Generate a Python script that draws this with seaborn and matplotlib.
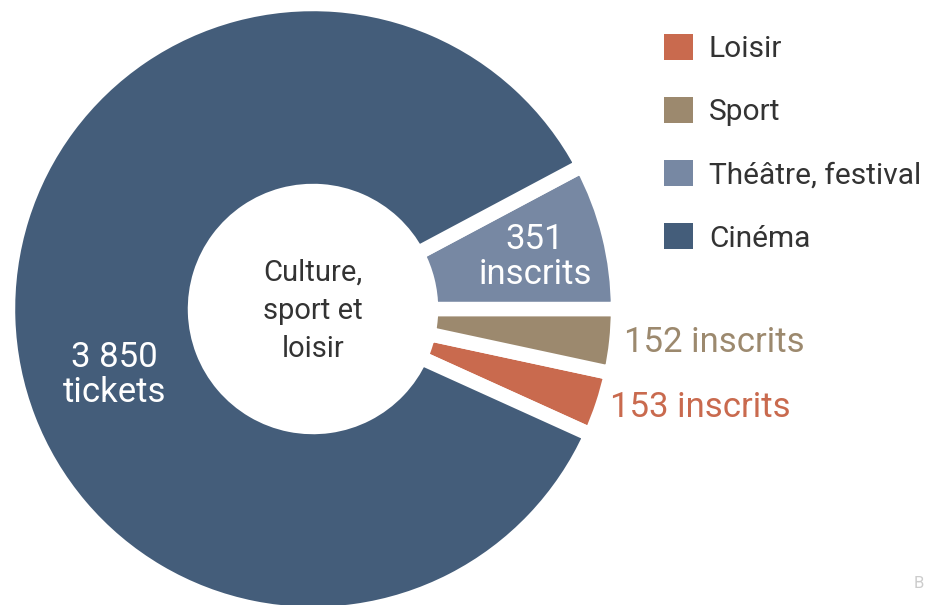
"""
Donut chart: culture, sport et loisir
"""

import numpy as np
import matplotlib
matplotlib.use("Agg")
import matplotlib.pyplot as plt
from matplotlib.patches import Patch
import seaborn as sns

# Data (legend order, drawn counter-clockwise)
categories = ["Loisir", "Sport", "Théâtre, festival", "Cinéma"]
values = [153, 152, 351, 3850]
slice_labels = ["153 inscrits", "152 inscrits", "351\ninscrits", "3 850\ntickets"]
colors = ["#c96a4e", "#9c896e", "#7788a3", "#445d7a"]
center_label = "Culture,\nsport et\nloisir"

sns.set_theme(style="white")
plt.rcParams["font.family"] = ["Roboto", "DejaVu Sans"]

W, H = 925, 605
fig = plt.figure(figsize=(W / 100, H / 100), dpi=100)
ax = fig.add_axes([0, 0, 1, 1])

# centre of the ring in pixel units (y up)
cx, cy = 313, H - 309
total = sum(values)
start = -360 * (values[0] + values[1]) / total

wedges, _ = ax.pie(values, colors=colors, startangle=start, counterclock=True,
                   radius=305, center=(cx, cy),
                   wedgeprops=dict(width=187, edgecolor="white", linewidth=10.4))

ax.set_xlim(0, W)
ax.set_ylim(0, H)
ax.set_aspect("equal")
ax.axis("off")


def polar(angle_deg, r):
    a = np.deg2rad(angle_deg)
    return cx + r * np.cos(a), cy + r * np.sin(a)


# slice labels
for w, lab, col in zip(wedges, slice_labels, colors):
    mid = (w.theta1 + w.theta2) / 2
    if lab.startswith("3 850"):
        x, y = polar(mid + 16.5, 209)
        ax.text(x, y, lab, ha="center", va="center", color="white",
                fontsize=25, linespacing=1.07)
    elif "\n" in lab:
        x, y = polar(mid - 0.8, 228)
        ax.text(x, y, lab, ha="center", va="center", color="white",
                fontsize=25, linespacing=1.07)
    else:
        x, y = polar(mid, 313)
        ax.text(x, y, lab, ha="left", va="center", color=col, fontsize=25)

# centre text
ax.text(cx, cy - 2, center_label, ha="center", va="center", color="#333333",
        fontsize=21, linespacing=1.47)

# legend
handles = [Patch(facecolor=c, edgecolor="none", label=l)
           for c, l in zip(colors, categories)]
ax.legend(handles=handles, loc="upper left",
          bbox_to_anchor=(664 / W, 1 - 34 / H), frameon=False,
          fontsize=21.5, handlelength=0.97, handleheight=0.97,
          handletextpad=0.53, labelspacing=1.13, borderaxespad=0,
          borderpad=0, labelcolor="#333333")

ax.text(919, H - 584, "B", ha="center", va="center", color="#cccccc", fontsize=12)

fig.savefig("out.png", dpi=100)
